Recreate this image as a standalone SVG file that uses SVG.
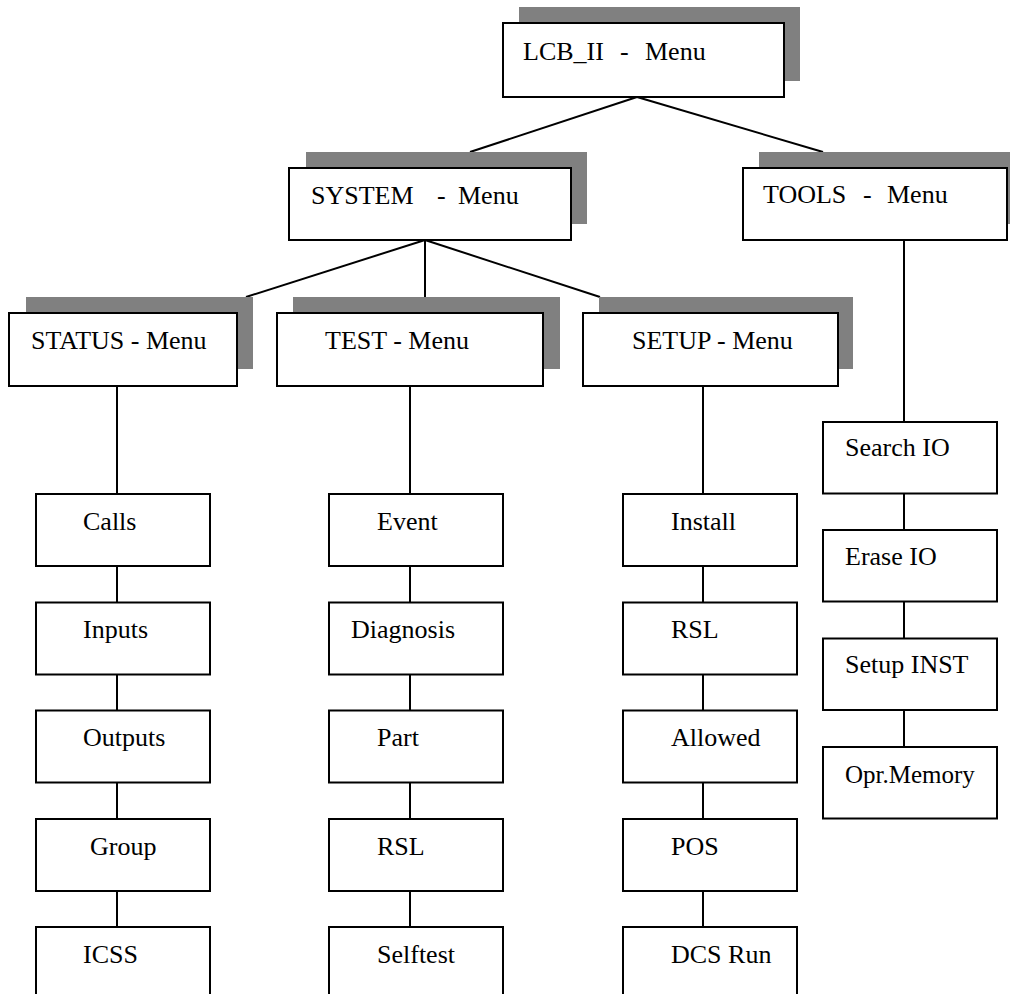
<svg xmlns="http://www.w3.org/2000/svg" width="1010" height="994" viewBox="0 0 1010 994">
<style>
  .shadow { fill: #808080; stroke: none; }
  .box { fill: #ffffff; stroke: #000000; stroke-width: 2; }
  .line { stroke: #000000; stroke-width: 2; fill: none; }
</style>
<rect width="1010" height="994" fill="#ffffff"/>
<g id="connectors">
  <line class="line" x1="637" y1="97" x2="470" y2="152"/>
  <line class="line" x1="637" y1="97" x2="823" y2="152"/>
  <line class="line" x1="425" y1="240" x2="246" y2="297"/>
  <line class="line" x1="425" y1="240" x2="425" y2="297"/>
  <line class="line" x1="425" y1="240" x2="600" y2="297"/>
  <line class="line" x1="117" y1="386" x2="117" y2="927"/>
  <line class="line" x1="410" y1="386" x2="410" y2="927"/>
  <line class="line" x1="703" y1="386" x2="703" y2="927"/>
  <line class="line" x1="904" y1="240" x2="904" y2="747"/>
</g>
<g id="lcb">
  <rect class="shadow" x="519" y="7" width="281" height="74"/>
  <rect class="box" x="503" y="23" width="281" height="74"/>
  <text style="font-family: 'Liberation Serif'; font-size: 26px" y="60"><tspan x="523">LCB_II</tspan><tspan x="620">-</tspan><tspan x="645">Menu</tspan></text>
</g>
<g id="system">
  <rect class="shadow" x="306" y="152" width="281" height="72"/>
  <rect class="box" x="289" y="168" width="282" height="72"/>
  <text style="font-family: 'Liberation Serif'; font-size: 26px" y="204"><tspan x="311">SYSTEM</tspan><tspan x="437">-</tspan><tspan x="458">Menu</tspan></text>
</g>
<g id="tools">
  <rect class="shadow" x="759" y="152" width="260" height="72"/>
  <rect class="box" x="743" y="168" width="264" height="72"/>
  <text style="font-family: 'Liberation Serif'; font-size: 26px" y="203"><tspan x="763">TOOLS</tspan><tspan x="863">-</tspan><tspan x="887">Menu</tspan></text>
</g>
<g id="status">
  <rect class="shadow" x="26" y="297" width="227" height="72"/>
  <rect class="box" x="9" y="313" width="228" height="73"/>
  <text style="font-family: 'Liberation Serif'; font-size: 26px" x="31" y="349">STATUS - Menu</text>
</g>
<g id="test">
  <rect class="shadow" x="293" y="297" width="267" height="72"/>
  <rect class="box" x="277" y="313" width="266" height="73"/>
  <text style="font-family: 'Liberation Serif'; font-size: 26px" x="325" y="349">TEST - Menu</text>
</g>
<g id="setup">
  <rect class="shadow" x="599" y="297" width="254" height="72"/>
  <rect class="box" x="583" y="313" width="255" height="73"/>
  <text style="font-family: 'Liberation Serif'; font-size: 26px" x="632" y="349">SETUP - Menu</text>
</g>
<g id="calls"><rect class="box" x="36" y="494" width="174" height="72"/><text style="font-family: 'Liberation Serif'; font-size: 26px" x="83" y="529.5">Calls</text></g>
<g id="inputs"><rect class="box" x="36" y="602.5" width="174" height="72"/><text style="font-family: 'Liberation Serif'; font-size: 26px" x="83" y="638">Inputs</text></g>
<g id="outputs"><rect class="box" x="36" y="710.5" width="174" height="72"/><text style="font-family: 'Liberation Serif'; font-size: 26px" x="83" y="746">Outputs</text></g>
<g id="group"><rect class="box" x="36" y="819" width="174" height="72"/><text style="font-family: 'Liberation Serif'; font-size: 26px" x="90" y="854.5">Group</text></g>
<g id="icss"><rect class="box" x="36" y="927" width="174" height="72"/><text style="font-family: 'Liberation Serif'; font-size: 26px" x="83" y="962.5">ICSS</text></g>
<g id="event"><rect class="box" x="329" y="494" width="174" height="72"/><text style="font-family: 'Liberation Serif'; font-size: 26px" x="377" y="529.5">Event</text></g>
<g id="diagnosis"><rect class="box" x="329" y="602.5" width="174" height="72"/><text style="font-family: 'Liberation Serif'; font-size: 26px" x="351" y="638">Diagnosis</text></g>
<g id="part"><rect class="box" x="329" y="710.5" width="174" height="72"/><text style="font-family: 'Liberation Serif'; font-size: 26px" x="377" y="746">Part</text></g>
<g id="rsl-test"><rect class="box" x="329" y="819" width="174" height="72"/><text style="font-family: 'Liberation Serif'; font-size: 26px" x="377" y="854.5">RSL</text></g>
<g id="selftest"><rect class="box" x="329" y="927" width="174" height="72"/><text style="font-family: 'Liberation Serif'; font-size: 26px" x="377" y="962.5">Selftest</text></g>
<g id="install"><rect class="box" x="623" y="494" width="174" height="72"/><text style="font-family: 'Liberation Serif'; font-size: 26px" x="671" y="529.5">Install</text></g>
<g id="rsl-setup"><rect class="box" x="623" y="602.5" width="174" height="72"/><text style="font-family: 'Liberation Serif'; font-size: 26px" x="671" y="638">RSL</text></g>
<g id="allowed"><rect class="box" x="623" y="710.5" width="174" height="72"/><text style="font-family: 'Liberation Serif'; font-size: 26px" x="671" y="746">Allowed</text></g>
<g id="pos"><rect class="box" x="623" y="819" width="174" height="72"/><text style="font-family: 'Liberation Serif'; font-size: 26px" x="671" y="854.5">POS</text></g>
<g id="dcsrun"><rect class="box" x="623" y="927" width="174" height="72"/><text style="font-family: 'Liberation Serif'; font-size: 26px" x="671" y="962.5">DCS Run</text></g>
<g id="searchio"><rect class="box" x="823" y="422" width="174" height="71.5"/><text style="font-family: 'Liberation Serif'; font-size: 26px" x="845" y="455.5">Search IO</text></g>
<g id="eraseio"><rect class="box" x="823" y="530" width="174" height="71.5"/><text style="font-family: 'Liberation Serif'; font-size: 26px" x="845" y="565">Erase IO</text></g>
<g id="setupinst"><rect class="box" x="823" y="638.5" width="174" height="71.5"/><text style="font-family: 'Liberation Serif'; font-size: 26px" x="845" y="673">Setup INST</text></g>
<g id="oprmemory"><rect class="box" x="823" y="747" width="174" height="71.5"/><text style="font-family: 'Liberation Serif'; font-size: 25px" x="845" y="783">Opr.Memory</text></g>
</svg>
